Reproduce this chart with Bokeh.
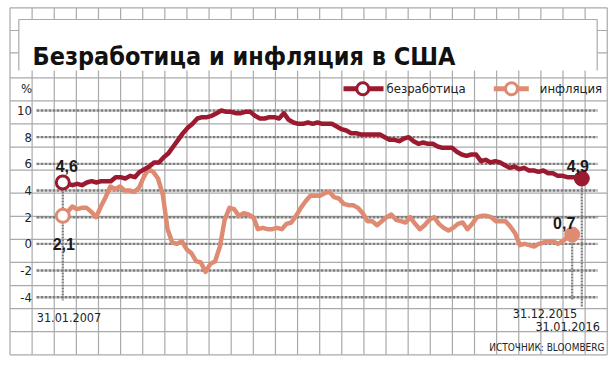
from bokeh.plotting import figure
from bokeh.models import Range1d
from bokeh.core.properties import value
from bokeh.embed import file_html
from bokeh.resources import INLINE

# ---------------- data ----------------
title_text = "Безработица и инфляция в США"
legend_labels = ["безработица", "инфляция"]
y_ticks = [-4, -2, 0, 2, 4, 6, 8, 10]
y_tick_labels = ["-4", "-2", "0", "2", "4", "6", "8", "10"]
unit_label = "%"
start_date_label = "31.01.2007"
end_date_labels = ["31.12.2015", "31.01.2016"]
source_label = "ИСТОЧНИК: BLOOMBERG"

# monthly unemployment, Jan 2007 .. Jan 2016 (%)
unemployment = [
    4.6, 4.5, 4.4, 4.5, 4.4, 4.6, 4.7, 4.6, 4.7, 4.7, 4.7, 5.0,
    5.0, 4.9, 5.1, 5.0, 5.4, 5.6, 5.8, 6.1, 6.1, 6.5, 6.8, 7.3,
    7.8, 8.3, 8.7, 9.0, 9.4, 9.5, 9.5, 9.6, 9.8, 10.0, 9.9, 9.9,
    9.8, 9.8, 9.9, 9.9, 9.6, 9.4, 9.4, 9.5, 9.5, 9.4, 9.8, 9.3,
    9.1, 9.0, 9.0, 9.1, 9.0, 9.1, 9.0, 9.0, 9.0, 8.8, 8.6, 8.5,
    8.3, 8.3, 8.2, 8.2, 8.2, 8.2, 8.2, 8.0, 7.8, 7.8, 7.7, 7.9,
    8.0, 7.7, 7.5, 7.6, 7.5, 7.5, 7.3, 7.2, 7.2, 7.2, 6.9, 6.7,
    6.6, 6.7, 6.7, 6.2, 6.3, 6.1, 6.2, 6.1, 5.9, 5.7, 5.8, 5.6,
    5.7, 5.5, 5.5, 5.4, 5.5, 5.3, 5.3, 5.1, 5.1, 5.0, 5.0, 5.0,
    4.9,
]
# monthly inflation, Jan 2007 .. Dec 2015 (%)
inflation = [
    2.1, 2.4, 2.8, 2.6, 2.7, 2.7, 2.4, 2.0, 2.8, 3.5, 4.3, 4.1,
    4.3, 4.0, 4.0, 3.9, 4.2, 5.0, 5.6, 5.4, 4.9, 3.7, 1.1, 0.1,
    0.0, 0.2, -0.4, -0.7, -1.3, -1.4, -2.1, -1.5, -1.3, -0.2, 1.8, 2.7,
    2.6, 2.1, 2.3, 2.2, 2.0, 1.1, 1.2, 1.1, 1.1, 1.2, 1.1, 1.5,
    1.6, 2.1, 2.7, 3.2, 3.6, 3.6, 3.6, 3.8, 3.9, 3.5, 3.4, 3.0,
    2.9, 2.9, 2.7, 2.3, 1.7, 1.7, 1.4, 1.7, 2.0, 2.2, 1.8, 1.7,
    1.6, 2.0, 1.5, 1.1, 1.4, 1.8, 2.0, 1.5, 1.2, 1.0, 1.2, 1.5,
    1.6, 1.1, 1.5, 2.0, 2.1, 2.1, 2.0, 1.7, 1.7, 1.7, 1.3, 0.8,
    -0.1, 0.0, -0.1, -0.2, 0.0, 0.1, 0.2, 0.2, 0.0, 0.2, 0.5, 0.7,
]
months_u = list(range(len(unemployment)))
months_i = list(range(len(inflation)))

# ---------------- layout ----------------
W, H = 615, 365
C_UN = "#9c1a30"
C_IN = "#df8b72"
C_GRID = "#aaaaaa"
C_DOT = "#7d7d7d"
NARROW = value("DejaVu Sans Condensed")
BOLD = value("Liberation Sans")


def span(v0, p0, v1, p1, total):
    k = (p1 - p0) / (v1 - v0)
    return Range1d(v0 - p0 / k, v0 + (total - p0) / k)


p = figure(width=W, height=H, output_backend="svg", toolbar_location=None,
           x_axis_type=None, y_axis_type=None,
           x_range=span(0, 62.3, len(unemployment) - 1, 581.3, W),
           y_range=span(-4, H - 296.7, 10, H - 110, H),
           min_border=0, min_border_left=0, min_border_right=0,
           min_border_top=0, min_border_bottom=0)
p.outline_line_color = None
p.grid.grid_line_color = None
p.background_fill_color = "white"
p.border_fill_color = "white"
p.extra_x_ranges = {"px": Range1d(0, W),
                    "xi": span(0, 62.3, len(inflation) - 1, 571.7, W)}
p.extra_y_ranges = {"py": Range1d(H, 0)}

# paper grid
cols = [9.5 + 22.12 * k for k in range(28)]
rows = [7.3, 30.0, 52.3] + [77.3 + 23.083 * j for j in range(13)]
p.segment(x0=cols, x1=cols, y0=[7.3] * len(cols), y1=[354.3] * len(cols),
          x_range_name="px", y_range_name="py", line_color=C_GRID, line_width=1.2)
p.segment(x0=[cols[0]] * len(rows), x1=[cols[-1]] * len(rows), y0=rows, y1=rows,
          x_range_name="px", y_range_name="py", line_color=C_GRID, line_width=1.2)
# title box
p.quad(left=[18.3], right=[596.7], top=[19], bottom=[70],
       x_range_name="px", y_range_name="py", fill_color="white", line_color=None)
p.multi_line(xs=[[18.3, 18.3, 596.7, 596.7]], ys=[[70, 19, 19, 70]],
             x_range_name="px", y_range_name="py", line_color=C_GRID, line_width=1.2)
p.text(x=[32], y=[55.5], text=[title_text], x_range_name="px", y_range_name="py",
       text_font=NARROW, text_font_style="bold", text_font_size="25px",
       text_color="#111111", text_baseline="alphabetic", text_align="left")

# dotted value gridlines
p.segment(x0=[36] * len(y_ticks), x1=[597] * len(y_ticks), y0=y_ticks, y1=y_ticks,
          x_range_name="px", line_color=C_DOT, line_width=2.4, line_dash="3 1")
p.text(x=[31.5] * len(y_ticks), y=y_ticks, text=y_tick_labels, x_range_name="px",
       text_font=NARROW, text_font_size="13px", text_color="#222222",
       text_align="right", text_baseline="middle")
p.text(x=[31.5], y=[88], text=[unit_label], x_range_name="px", y_range_name="py",
       text_font=NARROW, text_font_size="13px", text_color="#222222",
       text_align="right", text_baseline="middle")

# vertical dotted date markers
p.segment(x0=[months_u[0]], x1=[months_u[0]], y0=[unemployment[0]], y1=[y_ticks[0] - 0.25],
          line_color=C_DOT, line_width=2.2, line_dash="2 1")
p.segment(x0=[months_u[-1]], x1=[months_u[-1]], y0=[unemployment[-1]], y1=[y_ticks[0] - 0.75],
          line_color=C_DOT, line_width=2.2, line_dash="2 1")
p.segment(x0=[months_i[-1]], x1=[months_i[-1]], y0=[inflation[-1]], y1=[y_ticks[0] - 0.25],
          x_range_name="xi", line_color=C_DOT, line_width=2.2, line_dash="2 1")

# series
p.line(months_i, inflation, x_range_name="xi", line_color=C_IN, line_width=4.5,
       line_join="round", line_cap="round")
p.line(months_u, unemployment, line_color=C_UN, line_width=4.5,
       line_join="round", line_cap="round")

# start / end markers
p.scatter(x=[months_i[0]], y=[inflation[0]], x_range_name="xi", size=13,
          fill_color="white", line_color=C_IN, line_width=3)
p.scatter(x=[months_u[0]], y=[unemployment[0]], size=13,
          fill_color="white", line_color=C_UN, line_width=3)
p.scatter(x=[months_i[-1]], y=[inflation[-1]], x_range_name="xi", size=15,
          fill_color=C_IN, line_color=C_IN)
p.scatter(x=[months_u[-1]], y=[unemployment[-1]], size=15,
          fill_color=C_UN, line_color=C_UN)


def fmt(v):
    return f"{v:.1f}".replace(".", ",")


lab = dict(text_font=BOLD, text_font_style="bold", text_font_size="16px",
           text_color="#1a1a1a", text_align="center", text_baseline="alphabetic")
p.text(x=[months_u[0]], y=[unemployment[0]], text=[fmt(unemployment[0])],
       x_offset=4, y_offset=-17, **lab)
p.text(x=[months_i[0]], y=[inflation[0]], text=[fmt(inflation[0])], x_range_name="xi",
       x_offset=1, y_offset=28, **lab)
p.text(x=[months_u[-1]], y=[unemployment[-1]], text=[fmt(unemployment[-1])],
       x_offset=-4, y_offset=-13, **lab)
p.text(x=[months_i[-1]], y=[inflation[-1]], text=[fmt(inflation[-1])], x_range_name="xi",
       x_offset=-8, y_offset=-12, **lab)

# date labels
dl = dict(text_font=NARROW, text_font_size="12.5px", text_color="#222222",
          text_baseline="alphabetic")
p.text(x=[months_u[0]], y=[y_ticks[0]], text=[start_date_label],
       x_offset=-26, y_offset=20, text_align="left", **dl)
p.text(x=[months_i[-1]], y=[y_ticks[0]], text=[end_date_labels[0]], x_range_name="xi",
       x_offset=5, y_offset=16, text_align="right", **dl)
p.text(x=[months_u[-1]], y=[y_ticks[0]], text=[end_date_labels[1]],
       x_offset=18, y_offset=29.5, text_align="right", **dl)
p.text(x=[604], y=[346.7], text=[source_label], x_range_name="px", y_range_name="py",
       text_font=NARROW, text_font_size="10px", text_color="#222222",
       text_align="right", text_baseline="alphabetic")

# legend
for (x0, x1, cx, tx, col, lbl) in [(343, 383, 362.3, 386, C_UN, legend_labels[0]),
                                    (493.3, 528.3, 511, 539.3, C_IN, legend_labels[1])]:
    p.segment(x0=[x0], x1=[x1], y0=[88.3], y1=[88.3], x_range_name="px", y_range_name="py",
              line_color=col, line_width=5)
    p.scatter(x=[cx], y=[88.3], x_range_name="px", y_range_name="py", size=12,
              fill_color="white", line_color=col, line_width=3)
    p.text(x=[tx], y=[88.3], text=[lbl], x_range_name="px", y_range_name="py",
           text_font=NARROW, text_font_size="13px", text_color="#222222",
           text_align="left", text_baseline="middle")

open("out.html", "w").write(file_html(p, INLINE))
